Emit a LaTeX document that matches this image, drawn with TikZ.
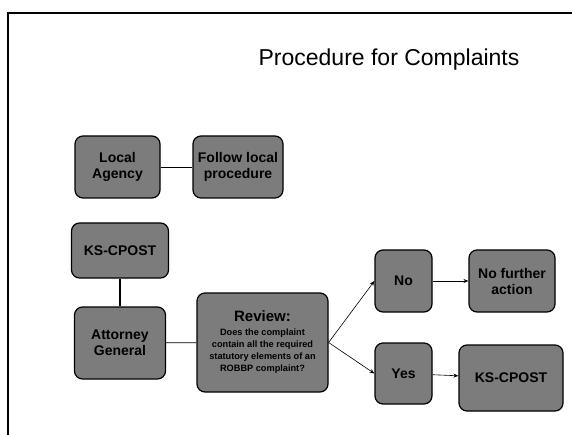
\documentclass[tikz,border=0pt]{standalone}
\usepackage{fontspec}
\setmainfont{Liberation Sans}
\usetikzlibrary{arrows.meta}
\definecolor{boxgray}{HTML}{7C7C7C}
\tikzset{blk/.style={draw=black,line width=1.2pt,fill=boxgray,rounded corners=8pt,
  align=center,inner sep=2pt,font=\fontsize{14}{16}\selectfont\bfseries},
  link/.style={line width=0.7pt},
  arr/.style={line width=0.6pt,-{Stealth[length=5pt,width=4pt]}}}

\begin{document}
\begin{tikzpicture}[x=1pt,y=-1pt]
\useasboundingbox (0,0) rectangle (572,435);
\draw[line width=2pt] (572,13) -- (7.5,13) -- (7.5,435);
\node[anchor=base,font=\fontsize{23}{25}\selectfont] (title) at (389,66) {Procedure for Complaints};
\node[blk,minimum width=85pt,minimum height=62pt] (local) at (117.5,167) {Local\\Agency};
\node[blk,minimum width=90pt,minimum height=62pt] (follow) at (238,167) {Follow local\\procedure};
\node[blk,minimum width=97pt,minimum height=55pt] (kstop) at (120,250.5) {KS-CPOST};
\node[blk,minimum width=91pt,minimum height=72pt] (att) at (120,343) {Attorney\\General};
\node[blk,minimum width=131pt,minimum height=99pt,font=\fontsize{9.2}{12}\selectfont\bfseries] (review) at (262.5,342.5)
  {{\fontsize{15}{16}\selectfont Review:}\\[2pt]Does the complaint\\contain all the required\\statutory elements of an\\ROBBP complaint?};
\node[blk,minimum width=57pt,minimum height=62pt] (no) at (403.5,281) {No};
\node[blk,minimum width=86pt,minimum height=62pt] (nofurther) at (512,281) {No further\\action};
\node[blk,minimum width=57pt,minimum height=61pt] (yes) at (403.5,373.5) {Yes};
\node[blk,minimum width=104pt,minimum height=66pt] (ksbot) at (511,378) {KS-CPOST};
\draw[link] (local) -- (follow);
\draw[line width=1.2pt] (kstop) -- (att);
\draw[link] (att) -- (review);
\draw[arr] (review.east) -- (no.west);
\draw[arr] (review.east) -- (yes.west);
\draw[arr] (no) -- (nofurther);
\draw[arr] (yes) -- (ksbot);
\end{tikzpicture}
\end{document}
